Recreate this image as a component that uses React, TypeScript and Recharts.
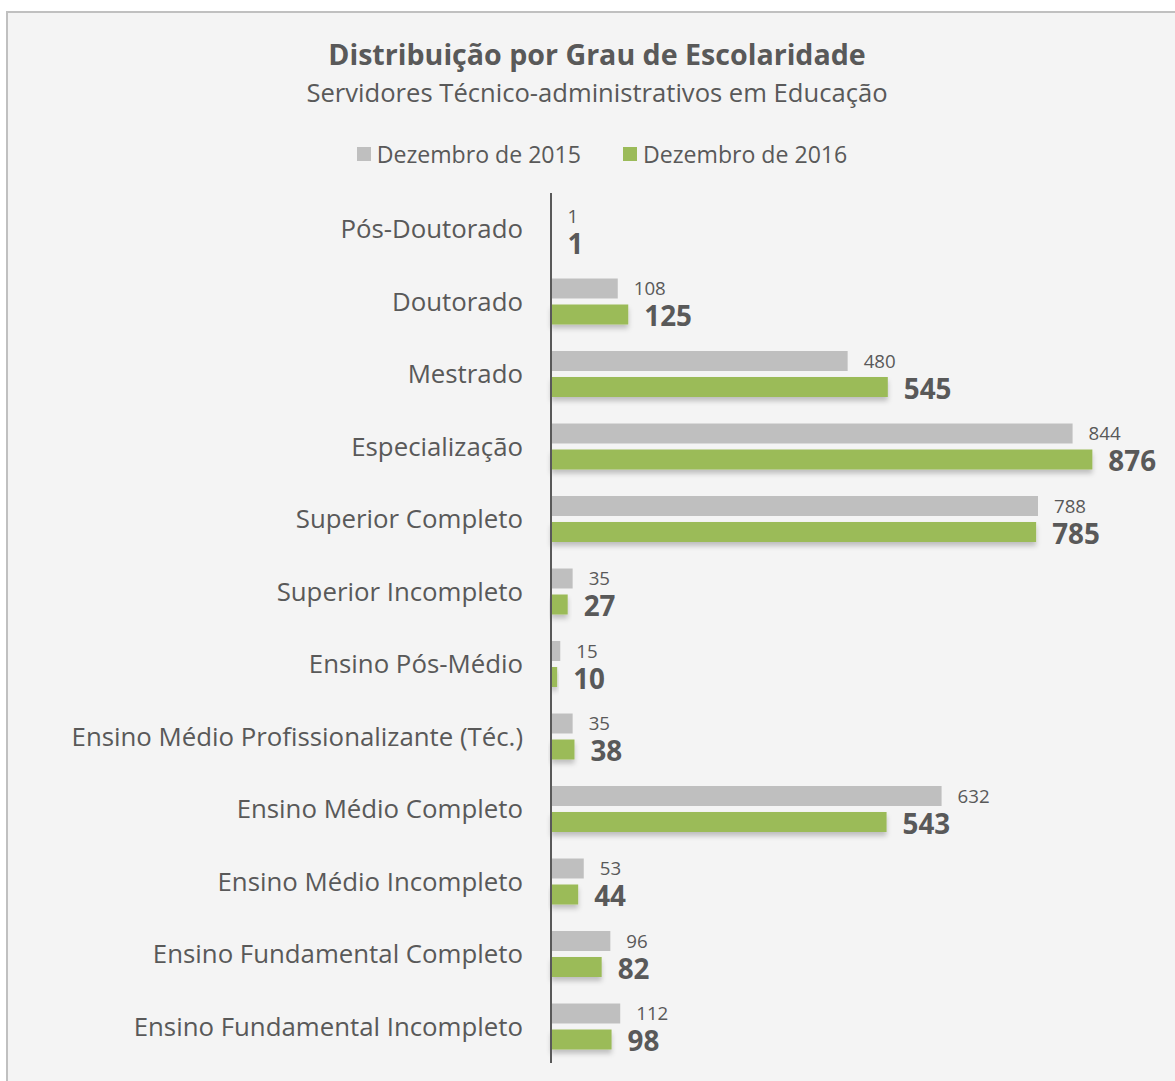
import React from "react";
import { BarChart, Bar, XAxis, YAxis, LabelList } from "recharts";

const categories = [
  "Pós-Doutorado",
  "Doutorado",
  "Mestrado",
  "Especialização",
  "Superior Completo",
  "Superior Incompleto",
  "Ensino Pós-Médio",
  "Ensino Médio Profissionalizante (Téc.)",
  "Ensino Médio Completo",
  "Ensino Médio Incompleto",
  "Ensino Fundamental Completo",
  "Ensino Fundamental Incompleto",
];
const dez2015 = [1, 108, 480, 844, 788, 35, 15, 35, 632, 53, 96, 112];
const dez2016 = [1, 125, 545, 876, 785, 27, 10, 38, 543, 44, 82, 98];
const seriesNames = ["Dezembro de 2015", "Dezembro de 2016"];
const seriesColors = ["#bfbfbf", "#9bbb59"];

const data = categories.map((name, i) => ({ name, a: dez2015[i], b: dez2016[i] }));

const FONT = "'Open Sans', 'Noto Sans', sans-serif";
const TEXT = "#595959";

const PlainRect = (props: any) => {
  const { x, y, width, height, fill } = props;
  if (width <= 0) return null;
  return <rect x={x} y={y} width={width} height={height} fill={fill} />;
};

const ShadowRect = (props: any) => {
  const { x, y, width, height, fill } = props;
  if (width <= 0) return null;
  return <rect x={x} y={y} width={width} height={height} fill={fill} filter="url(#barShadow)" />;
};

export default function App() {
  return (
    <div
      style={{
        position: "fixed",
        left: 6,
        top: 11,
        right: 0,
        bottom: 0,
        borderTop: "2px solid #c0c0c0",
        borderLeft: "2px solid #c0c0c0",
        background: "#f4f4f4",
        boxSizing: "border-box",
        fontFamily: FONT,
        overflow: "hidden",
      }}
    >
      <style>{`html,body{overflow:hidden;}`}</style>
      <svg width={0} height={0} style={{ position: "absolute" }}>
        <defs>
          <filter id="barShadow" x="-10%" y="-30%" width="130%" height="190%">
            <feDropShadow dx={0} dy={4} stdDeviation={2.5} floodColor="#000" floodOpacity={0.22} />
          </filter>
        </defs>
      </svg>
      <div
        style={{
          position: "absolute",
          top: 23,
          left: 0,
          width: 1178,
          textAlign: "center",
          fontSize: 28.6,
          fontWeight: 700,
          color: TEXT,
          lineHeight: "36px",
        }}
      >
        Distribuição por Grau de Escolaridade
      </div>
      <div
        style={{
          position: "absolute",
          top: 64,
          left: 0,
          width: 1178,
          textAlign: "center",
          fontSize: 25.6,
          color: TEXT,
          lineHeight: "32px",
        }}
      >
        Servidores Técnico-administrativos em Educação
      </div>
      <div
        style={{
          position: "absolute",
          top: 125,
          left: 5,
          width: 1178,
          display: "flex",
          justifyContent: "center",
          fontSize: 23.1,
          color: TEXT,
          lineHeight: "32px",
        }}
      >
        {seriesNames.map((n, i) => (
          <div key={n} style={{ display: "flex", alignItems: "center", marginLeft: i ? 42 : 0 }}>
            <span
              style={{ width: 14, height: 14, background: seriesColors[i], display: "inline-block", marginRight: 6 }}
            />
            <span>{n}</span>
          </div>
        ))}
      </div>
      <div style={{ position: "absolute", top: 0, left: 0 }}>
        <BarChart
          width={1176}
          height={1067}
          data={data}
          layout="vertical"
          margin={{ top: 180, right: 15, bottom: 17, left: 0 }}
          barSize={20}
          barGap={6}
        >
          <XAxis type="number" domain={[0, 1000]} hide />
          <YAxis
            type="category"
            dataKey="name"
            width={543}
            axisLine={{ stroke: "#595959", strokeWidth: 2 }}
            tickLine={false}
            tickSize={6}
            tickMargin={22}
            interval={0}
            tick={{ fontSize: 25.8, fill: TEXT, fontFamily: FONT }}
          />
          <Bar dataKey="a" name={seriesNames[0]} fill={seriesColors[0]} isAnimationActive={false} shape={<PlainRect />}>
            <LabelList dataKey="a" position="right" offset={16} style={{ fontSize: 18.7, fill: TEXT, fontFamily: FONT }} />
          </Bar>
          <Bar dataKey="b" name={seriesNames[1]} fill={seriesColors[1]} isAnimationActive={false} shape={<ShadowRect />}>
            <LabelList
              dataKey="b"
              position="right"
              offset={16}
              dy={2}
              style={{ fontSize: 27.8, fontWeight: 700, fill: TEXT, fontFamily: FONT }}
            />
          </Bar>
        </BarChart>
      </div>
    </div>
  );
}
